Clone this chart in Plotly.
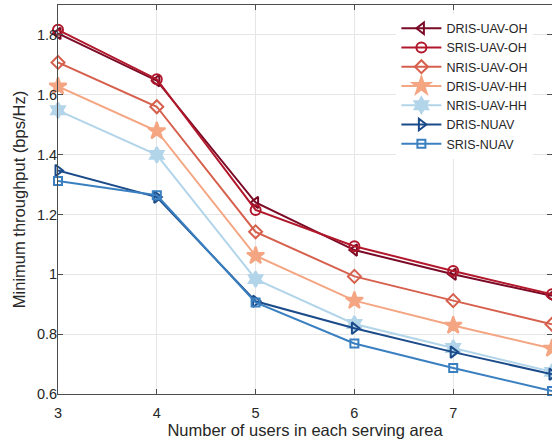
import plotly.graph_objects as go

users = [3, 4, 5, 6, 7, 8]
series_names = ["DRIS-UAV-OH", "SRIS-UAV-OH", "NRIS-UAV-OH", "DRIS-UAV-HH",
                "NRIS-UAV-HH", "DRIS-NUAV", "SRIS-NUAV"]
dris_uav_oh = [1.805, 1.647, 1.240, 1.081, 1.000, 0.928]
sris_uav_oh = [1.817, 1.652, 1.215, 1.094, 1.011, 0.933]
nris_uav_oh = [1.708, 1.560, 1.142, 0.993, 0.912, 0.833]
dris_uav_hh = [1.628, 1.479, 1.062, 0.912, 0.829, 0.752]
nris_uav_hh = [1.548, 1.399, 0.984, 0.834, 0.754, 0.674]
dris_nuav = [1.347, 1.258, 0.910, 0.820, 0.740, 0.666]
sris_nuav = [1.312, 1.264, 0.906, 0.769, 0.687, 0.610]
y_ticks = [0.6, 0.8, 1.0, 1.2, 1.4, 1.6, 1.8]
y_tick_text = ["0.6", "0.8", "1", "1.2", "1.4", "1.6", "1.8"]

values = [dris_uav_oh, sris_uav_oh, nris_uav_oh, dris_uav_hh,
          nris_uav_hh, dris_nuav, sris_nuav]
colors = ["#7a0a26", "#b2182b", "#d6604d", "#f4a582", "#b3d5e9", "#1b4b8a", "#3a80c1"]
symbols = ["triangle-left-open", "circle-open", "diamond-open", "star",
           "hexagram", "triangle-right-open", "square-open"]
sizes = [10, 10, 10, 13, 12, 10, 8]

fig = go.Figure()
for name, vals, c, s, sz in zip(series_names, values, colors, symbols, sizes):
    fig.add_trace(go.Scatter(
        x=users, y=vals, name=name, mode="lines+markers",
        line=dict(color=c, width=2),
        marker=dict(symbol=s, size=sz, color=c, line=dict(color=c, width=2)),
        cliponaxis=False,
    ))

FONT = "Liberation Sans, Arial, sans-serif"
axis_common = dict(
    showline=True, linecolor="#4d4d4d", linewidth=1, mirror="ticks",
    ticks="inside", ticklen=5, tickcolor="#4d4d4d",
    showgrid=True, gridcolor="#e6e6e6", gridwidth=1, zeroline=False,
    tickfont=dict(family=FONT, size=14.5, color="#262626"),
)

fig.update_layout(
    width=552, height=447,
    margin=dict(l=58, r=0, t=5, b=53),
    paper_bgcolor="white", plot_bgcolor="white",
    font=dict(family=FONT, color="#262626"),
    xaxis=dict(range=[3, 8], tickvals=users, ticklabelstandoff=6, title=dict(
        text="Number of users in each serving area", font=dict(size=16.5), standoff=4),
        **axis_common),
    yaxis=dict(range=[0.6, 1.9], tickvals=y_ticks, ticktext=y_tick_text,
               ticklabelstandoff=-3, title=dict(
        text="Minimum throughput (bps/Hz)", font=dict(size=16.5), standoff=7),
        **axis_common),
    legend=dict(x=0.685, y=0.978, xanchor="left", yanchor="top",
                bgcolor="white", borderwidth=0,
                font=dict(size=12.5, color="#262626"),
                tracegroupgap=0, itemwidth=40),
    showlegend=True,
)

fig.write_html("out.html", config={"displayModeBar": False},
               post_script="document.body.style.margin='0px';")
